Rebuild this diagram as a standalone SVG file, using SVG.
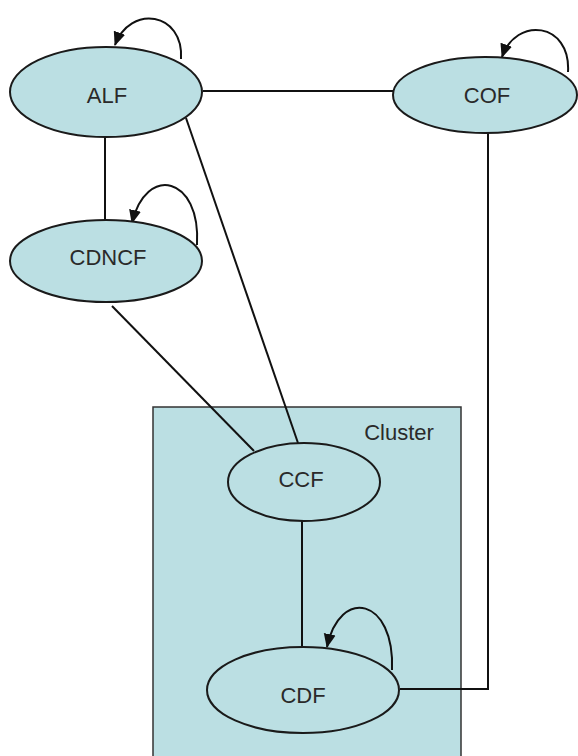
<svg xmlns="http://www.w3.org/2000/svg" width="578" height="756" viewBox="0 0 578 756">
  <style>
    .node { fill: #bbdfe3; stroke: #1a1a1a; stroke-width: 2; }
    .cluster { fill: #bbdfe3; stroke: #333; stroke-width: 1.5; }
    .edge { fill: none; stroke: #111; stroke-width: 2; }
    .label { font-family: "Liberation Sans", Arial, sans-serif; font-size: 22px; fill: #2a2a2a; text-anchor: middle; }
  </style>
  <defs>
    <marker id="arrow" markerUnits="userSpaceOnUse" markerWidth="14" markerHeight="14" viewBox="0 0 14 14" refX="13" refY="7" orient="auto">
      <path d="M0,1 L14,7 L0,13 Z" fill="#111"/>
    </marker>
  </defs>

  <rect fill="#ffffff" width="578" height="756"/>

  <g id="cluster">
    <rect class="cluster" x="153" y="407" width="308" height="360"/>
    <text class="label" x="399" y="440">Cluster</text>
  </g>

  <g id="connectors">
    <line class="edge" x1="203" y1="91" x2="393" y2="91"/>
    <line class="edge" x1="105" y1="137" x2="105" y2="220"/>
    <line class="edge" x1="186" y1="118" x2="298" y2="443"/>
    <line class="edge" x1="112" y1="306" x2="254" y2="451"/>
    <line class="edge" x1="302" y1="520" x2="302" y2="647"/>
    <polyline class="edge" points="400,689 488,689 488,133"/>
    <path class="edge" d="M181,59 C184,12 130,4 115,45" marker-end="url(#arrow)"/>
    <path class="edge" d="M568,72 C571,22 516,16 502,57" marker-end="url(#arrow)"/>
    <path class="edge" d="M197,245 C201,176 146,164 132,223" marker-end="url(#arrow)"/>
    <path class="edge" d="M392,670 C395,598 340,586 327,647" marker-end="url(#arrow)"/>
  </g>

  <g id="ALF">
    <ellipse class="node" cx="106" cy="92" rx="96" ry="45"/>
    <text class="label" x="107" y="103">ALF</text>
  </g>
  <g id="COF">
    <ellipse class="node" cx="485" cy="95" rx="92" ry="38"/>
    <text class="label" x="487" y="103">COF</text>
  </g>
  <g id="CDNCF">
    <ellipse class="node" cx="106" cy="261" rx="96" ry="41"/>
    <text class="label" x="108" y="265">CDNCF</text>
  </g>
  <g id="CCF">
    <ellipse class="node" cx="304" cy="482" rx="76" ry="39"/>
    <text class="label" x="301" y="487">CCF</text>
  </g>
  <g id="CDF">
    <ellipse class="node" cx="303" cy="690" rx="96" ry="43"/>
    <text class="label" x="303" y="703">CDF</text>
  </g>
</svg>
